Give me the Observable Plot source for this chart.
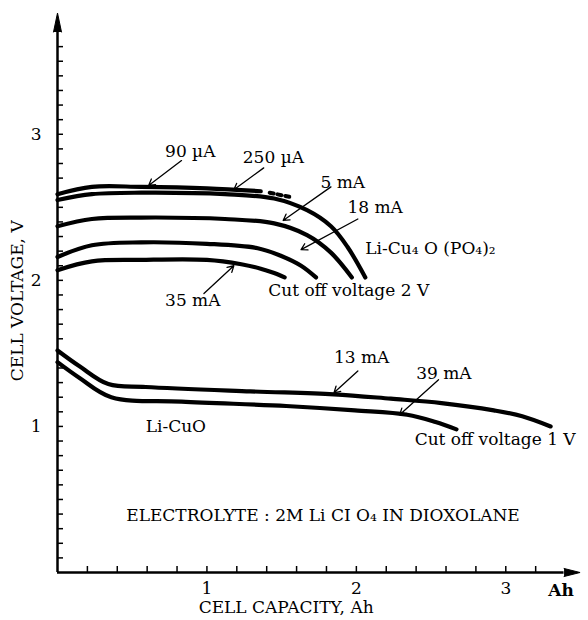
<!DOCTYPE html>
<html><head><meta charset="utf-8">
<script src="https://cdn.jsdelivr.net/npm/d3@7"></script>
<script src="https://cdn.jsdelivr.net/npm/@observablehq/plot@0.6"></script>
<style>body{margin:0;background:#fff}</style>
</head><body><div id="chart"></div>
<script>
// ---- data (capacity in Ah, voltage in V) ----
const cap90uA  = [0, 0.23, 0.56, 1.0, 1.36];
const volt90uA = [2.59, 2.64, 2.64, 2.63, 2.61];
const cap90uAext  = [1.42, 1.56];
const volt90uAext = [2.60, 2.57];
const cap250uA  = [0, 0.23, 0.56, 1.12, 1.45, 1.67, 1.83, 1.94, 2.06];
const volt250uA = [2.55, 2.59, 2.60, 2.59, 2.56, 2.48, 2.37, 2.23, 2.02];
const cap5mA  = [0, 0.23, 0.56, 1.12, 1.45, 1.67, 1.83, 1.97];
const volt5mA = [2.37, 2.42, 2.43, 2.42, 2.39, 2.31, 2.19, 2.02];
const cap18mA  = [0, 0.23, 0.56, 1.0, 1.34, 1.49, 1.63, 1.73];
const volt18mA = [2.16, 2.24, 2.26, 2.25, 2.22, 2.17, 2.10, 2.02];
const cap35mA  = [0, 0.23, 0.56, 1.0, 1.23, 1.36, 1.45, 1.52];
const volt35mA = [2.07, 2.13, 2.14, 2.14, 2.11, 2.08, 2.05, 2.02];
const cap13mA  = [0, 0.15, 0.34, 0.59, 1.29, 1.85, 2.23, 2.57, 2.92, 3.11, 3.30];
const volt13mA = [1.52, 1.41, 1.29, 1.27, 1.24, 1.22, 1.19, 1.16, 1.11, 1.07, 1.00];
const cap39mA  = [0, 0.15, 0.36, 0.83, 1.53, 1.99, 2.34, 2.53, 2.67];
const volt39mA = [1.44, 1.33, 1.20, 1.17, 1.14, 1.11, 1.08, 1.03, 0.98];

const xTickLabels = [1, 2, 3];
const yTickLabels = [1, 2, 3];
const xMinorTicks = d3.range(1, 17).map(i => i / 5);   // 0.2 … 3.2
const yMinorTicks = d3.range(1, 37).map(i => i / 10);  // 0.1 … 3.6

// annotations
const noteText = ["90 µA", "250 µA", "5 mA", "18 mA", "Li-Cu₄ O (PO₄)₂", "Cut off voltage 2 V",
  "35 mA", "13 mA", "39 mA", "Li-CuO", "Cut off voltage 1 V", "ELECTROLYTE : 2M Li CI O₄ IN DIOXOLANE"];
const noteX = [0.72, 1.24, 1.76, 1.94, 2.06, 1.41, 0.72, 1.85, 2.40, 0.59, 2.39, 0.46];
const noteY = [2.88, 2.84, 2.67, 2.50, 2.22, 1.93, 1.86, 1.47, 1.36, 1.00, 0.91, 0.39];
const arrowFromX = [0.83, 1.38, 1.83, 2.01, 0.98, 2.01, 2.55];
const arrowFromY = [2.82, 2.77, 2.64, 2.42, 1.91, 1.38, 1.32];
const arrowToX   = [0.61, 1.18, 1.51, 1.63, 1.18, 1.85, 2.29];
const arrowToY   = [2.65, 2.62, 2.41, 2.21, 2.10, 1.23, 1.08];

const series = [
  ["90 µA", cap90uA, volt90uA], ["250 µA", cap250uA, volt250uA], ["5 mA", cap5mA, volt5mA],
  ["18 mA", cap18mA, volt18mA], ["35 mA", cap35mA, volt35mA],
  ["13 mA", cap13mA, volt13mA], ["39 mA", cap39mA, volt39mA]
];
const rows = series.flatMap(([name, xs, ys]) => xs.map((x, i) => ({name, cap: x, volt: ys[i]})));
const ext = cap90uAext.map((x, i) => ({cap: x, volt: volt90uAext[i]}));
const arrows = arrowFromX.map((x, i) => ({x1: x, y1: arrowFromY[i], x2: arrowToX[i], y2: arrowToY[i]}));

const font = "DejaVu Serif";
const chart = Plot.plot({
  width: 588, height: 620,
  marginLeft: 57, marginRight: 8, marginTop: 14, marginBottom: 48,
  x: {domain: [0, 3.5]},
  y: {domain: [0, 3.82]},
  style: {fontFamily: font, fontSize: "16px", color: "black", background: "white"},
  marks: [
    // axes lines and arrowheads
    Plot.ruleX([0], {y1: 0, y2: 3.70, strokeWidth: 2.5}),
    Plot.ruleY([0], {x1: 0, x2: 3.39, strokeWidth: 2.5}),
    Plot.vector([0], {x: 0, y: 3.70, length: 19, r: 4, shape: "spike", anchor: "start", fill: "black", stroke: "black", strokeWidth: 1}),
    Plot.vector([0], {x: 3.39, y: 0, length: 16, r: 4, rotate: 90, shape: "spike", anchor: "start", fill: "black", stroke: "black", strokeWidth: 1}),
    // inward minor ticks
    Plot.axisY(yMinorTicks, {anchor: "left", tickSize: -6, strokeWidth: 1.5, tickFormat: () => "", label: null}),
    Plot.axisX(xMinorTicks, {anchor: "bottom", tickSize: -6, strokeWidth: 1.5, tickFormat: () => "", label: null}),
    // tick labels
    Plot.axisY(yTickLabels, {anchor: "left", tickSize: 0, tickPadding: 16, tickFormat: d3.format("d"), fontSize: 17, fontFamily: font, label: null}),
    Plot.axisX(xTickLabels, {anchor: "bottom", tickSize: 0, tickPadding: 9, tickFormat: d3.format("d"), fontSize: 17, fontFamily: font, label: null}),
    Plot.text(["Ah"], {x: 3.37, y: 0, dy: 18, fontSize: 17, fontWeight: "bold", fontFamily: font}),
    Plot.text(["CELL CAPACITY, Ah"], {x: 1.53, y: 0, dy: 35, fontSize: 17, fontFamily: font}),
    Plot.text(["CELL VOLTAGE, V"], {x: 0, y: 1.86, dx: -40, rotate: -90, fontSize: 17, fontFamily: font}),
    // discharge curves
    Plot.line(rows, {x: "cap", y: "volt", z: "name", curve: "catmull-rom", strokeWidth: 4.2, stroke: "black"}),
    Plot.line(ext, {x: "cap", y: "volt", strokeWidth: 4, strokeDasharray: "4,4", stroke: "black"}),
    // annotation arrows
    Plot.arrow(arrows, {x1: "x1", y1: "y1", x2: "x2", y2: "y2", headLength: 8, strokeWidth: 1.3, stroke: "black"}),
    Plot.text(noteText, {x: (d, i) => noteX[i], y: (d, i) => noteY[i], text: d => d, textAnchor: "start", fontSize: 17, fontFamily: font})
  ]
});
document.getElementById("chart").append(chart);
</script>
</body></html>
